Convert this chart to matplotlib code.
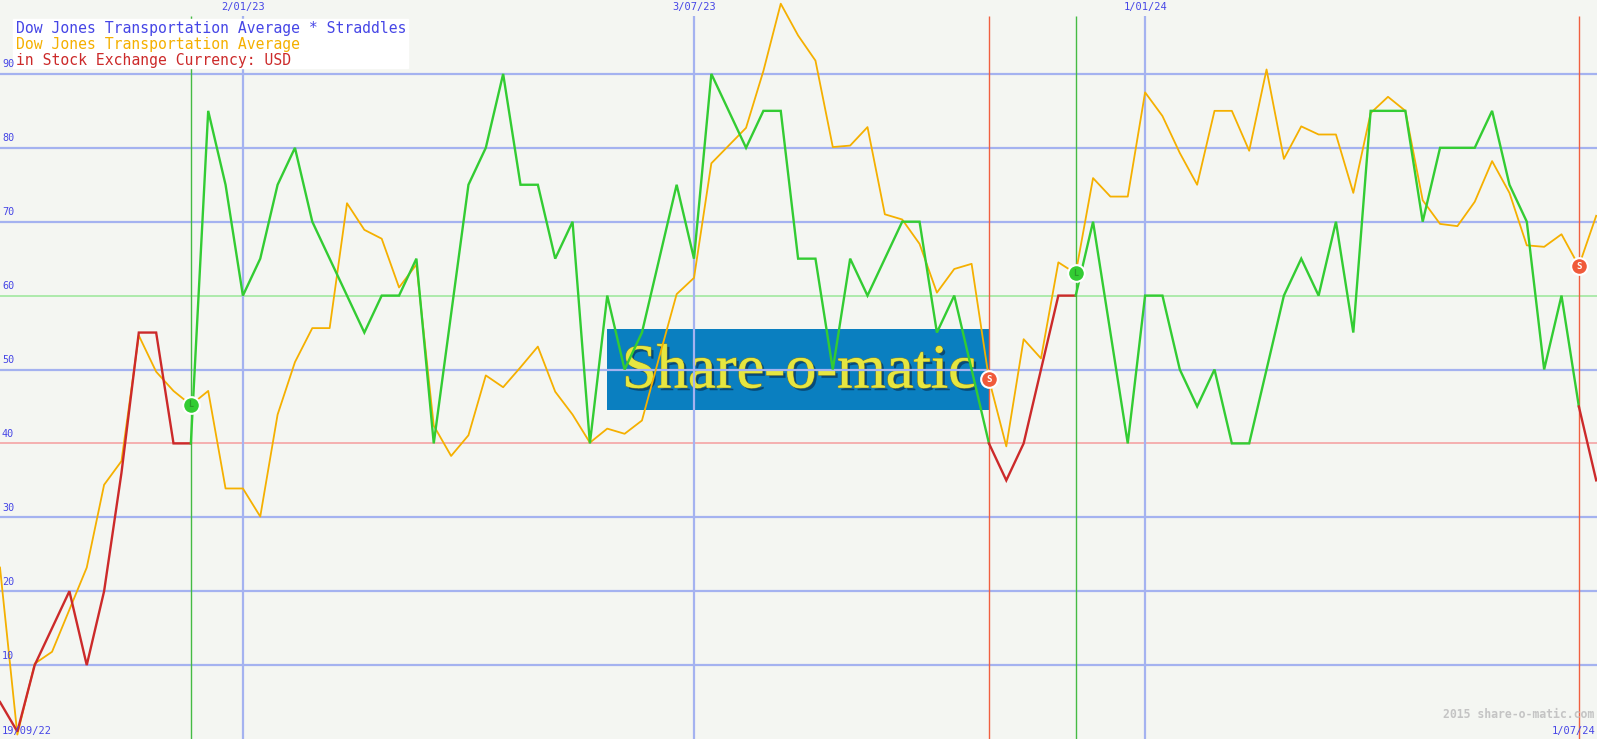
import numpy as np
import matplotlib
matplotlib.use("Agg")
import matplotlib.pyplot as plt
import matplotlib.patheffects as pe

# ================================
# DATA (weekly points, index based)
# ================================
straddle = [5, 1, 10, 15, 20, 10, 20, 36, 55, 55,
            40, 40, 85, 75, 60, 65, 75, 80, 70, 65,
            60, 55, 60, 60, 65, 40, 57.5, 75, 80, 90,
            75, 75, 65, 70, 40, 60, 50, 55, 65, 75,
            65, 90, 85, 80, 85, 85, 65, 65, 50, 65,
            60, 65, 70, 70, 55, 60, 50, 40, 35, 40,
            50, 60, 60, 70, 55, 40, 60, 60, 50, 45,
            50, 40, 40, 50, 60, 65, 60, 70, 55, 85,
            85, 85, 70, 80, 80, 80, 85, 75, 70, 50,
            60, 45, 35]

price = [23.2, 0.6, 10.2, 11.8, 17.5, 23.2, 34.4, 37.6, 54.6, 49.7,
         47.1, 45.2, 47.1, 33.9, 33.9, 30.1, 43.9, 51.0, 55.6, 55.6,
         72.5, 68.9, 67.7, 61.1, 64.2, 42.4, 38.3, 41.1, 49.2, 47.6,
         50.3, 53.1, 47.0, 43.9, 40.1, 42.0, 41.3, 43.1, 51.7, 60.2,
         62.4, 77.9, 80.3, 82.7, 90.4, 99.5, 95.2, 91.8, 80.1, 80.3,
         82.8, 71.0, 70.3, 67.0, 60.4, 63.6, 64.3, 48.7, 39.6, 54.1,
         51.5, 64.5, 63.0, 75.9, 73.4, 73.4, 87.5, 84.3, 79.3, 75.0,
         85.0, 85.0, 79.6, 90.6, 78.5, 82.9, 81.8, 81.8, 73.9, 84.7,
         86.9, 85.0, 72.9, 69.7, 69.4, 72.7, 78.2, 73.9, 66.8, 66.6,
         68.3, 64.0, 70.8]

long_idx = [11, 62]    # L signals
short_idx = [57, 91]   # S signals

date_labels = ["19/09/22", "2/01/23", "3/07/23", "1/01/24", "1/07/24"]
date_idx = [0, 14, 40, 66, 91]

grid_levels = [10, 20, 30, 50, 70, 80, 90]
buy_level = 60
sell_level = 40

legend_lines = ["Dow Jones Transportation Average * Straddles",
                "Dow Jones Transportation Average",
                "in Stock Exchange Currency: USD"]

# ================================
# FIGURE
# ================================
W, H = 1597, 739
BG = "#f4f6f2"
GRID = "#a4b2f0"
TXT_BLUE = "#4646e6"
GREEN = "#33cc33"
RED = "#cc2a2a"
ORANGE = "#f5b000"

fig = plt.figure(figsize=(W / 100, H / 100), dpi=100, facecolor=BG)
ax = fig.add_axes([0, 0, 1, 1])
ax.set_facecolor(BG)
ax.set_xlim(0, W / 17.35)
ax.set_ylim(0, 100)
ax.axis("off")

x = np.arange(len(straddle))

# logo box behind everything
ax.add_patch(plt.Rectangle((35.0, 44.5), 22.05, 11.0, color="#0a7fc0", zorder=0.5, lw=0))
ax.text(46.05, 49.6, "Share-o-matic", family="Liberation Serif", fontsize=45,
        color="#e6e640", ha="center", va="center", zorder=0.6,
        path_effects=[pe.withSimplePatchShadow(offset=(2, -2), shadow_rgbFace="#083458", alpha=0.7),
                      pe.withStroke(linewidth=1.0, foreground="#8a8a30"), pe.Normal()])

# horizontal grid
for lv in grid_levels:
    ax.axhline(lv, color=GRID, lw=1.6, zorder=1)
ax.axhline(buy_level, color="#a0e8a0", lw=1.2, zorder=1)
ax.axhline(sell_level, color="#f4a4a4", lw=1.2, zorder=1)

# vertical date lines (middle labels)
for i in date_idx[1:-1]:
    ax.vlines(i, 0, 97.8, color=GRID, lw=1.6, zorder=1)

# signal lines
for i in long_idx:
    ax.vlines(i, 0, 97.8, color="#44bb44", lw=1.0, zorder=1.5)
for i in short_idx:
    ax.vlines(i, 0, 97.8, color="#f06040", lw=1.0, zorder=1.5)

# price line
ax.plot(x, price, color=ORANGE, lw=1.3, zorder=3)

# straddle line, coloured by regime
events = sorted([(i, "L") for i in long_idx] + [(i, "S") for i in short_idx])
bounds = [0] + [e[0] for e in events] + [len(straddle) - 1]
colours = [RED] + [GREEN if e[1] == "L" else RED for e in events]
for k in range(len(bounds) - 1):
    a, b = bounds[k], bounds[k + 1]
    ax.plot(x[a:b + 1], straddle[a:b + 1], color=colours[k], lw=1.7, zorder=4,
            solid_joinstyle="miter")

# signal markers on price line
for i in long_idx:
    ax.plot(i, price[i], "o", ms=12, mfc="#33cc33", mec="white", mew=1.5, zorder=5)
    ax.text(i, price[i], "L", fontsize=6, color="#2a9a2a", ha="center", va="center",
            family="DejaVu Sans Mono", weight="bold", zorder=6)
for i in short_idx:
    ax.plot(i, price[i], "o", ms=12, mfc="#f05a3a", mec="white", mew=1.5, zorder=5)
    ax.text(i, price[i], "S", fontsize=6.5, color="white", ha="center", va="center",
            family="DejaVu Sans Mono", weight="bold", zorder=6)

# ================================
# TEXTS
# ================================
def fx(px):
    return px / W

def fy(py):
    return 1 - py / H

mono = "DejaVu Sans Mono"

# legend box
fig.patches.append(plt.Rectangle((fx(13), fy(68)), fx(395), 49 / H, transform=fig.transFigure,
                                 color="white", zorder=6))
for txt, col, py in zip(legend_lines, [TXT_BLUE, ORANGE, RED], [29, 45, 61]):
    fig.text(fx(16), fy(py), txt, fontsize=10.6, color=col, family=mono,
             ha="left", va="center", zorder=8)

# y labels (drawn above the legend box)
for lv in grid_levels + [buy_level, sell_level]:
    fig.text(fx(2), lv / 100 + 0.006, str(lv), fontsize=7.3, color=TXT_BLUE, family=mono,
             ha="left", va="bottom", zorder=9)

# date labels
for lab, i in zip(date_labels[1:-1], date_idx[1:-1]):
    ax.text(i, 98.4, lab, fontsize=7.5, color=TXT_BLUE, family=mono,
            ha="center", va="bottom", zorder=7)
fig.text(fx(2), fy(731), date_labels[0], fontsize=7.5, color=TXT_BLUE, family=mono,
         ha="left", va="center", zorder=7)
fig.text(fx(1595), fy(731), date_labels[-1], fontsize=7.5, color=TXT_BLUE, family=mono,
         ha="right", va="center", zorder=7)

# watermark
fig.text(fx(1594), fy(714), "2015 share-o-matic.com", fontsize=8.3, color="#c4c4c4",
         family=mono, weight="bold", ha="right", va="center", zorder=7)

fig.savefig("out.png", dpi=100, facecolor=BG)
